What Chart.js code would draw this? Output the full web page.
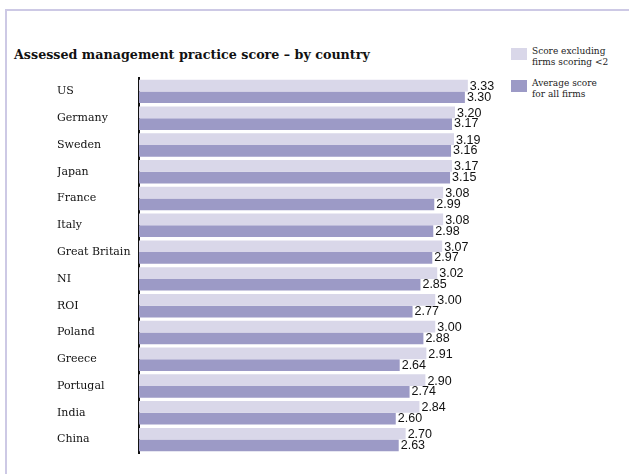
<!DOCTYPE html>
<html>
<head>
<meta charset="utf-8">
<script src="https://cdn.jsdelivr.net/npm/chart.js@4/dist/chart.umd.min.js"></script>
<style>
  html, body { margin: 0; padding: 0; background: #fff; }
  #wrap { position: relative; width: 629px; height: 474px; overflow: hidden; }
  #frame {
    position: absolute; left: 5px; top: 9px; right: -10px; bottom: -10px;
    border-left: 2px solid #cdc9e5; border-top: 2px solid #cdc9e5;
  }
  #title {
    position: absolute; left: 14px; top: 47px;
    font: bold 12.7px "DejaVu Serif", serif; color: #111; white-space: nowrap;
  }
  .lg { position: absolute; left: 511px; width: 16px; height: 12px; }
  .lgt {
    position: absolute; left: 532px; font: 9px/11px "DejaVu Serif", serif; color: #222;
  }
  canvas { position: absolute; left: 0; top: 0; }
</style>
</head>
<body>
<div id="wrap">
  <div id="frame"></div>
  <div id="title">Assessed management practice score – by country</div>
  <div class="lg" style="top:48px;background:#d9d7e9"></div>
  <div class="lgt" style="top:46px">Score excluding<br>firms scoring &lt;2</div>
  <div class="lg" style="top:80px;background:#9c9ac6"></div>
  <div class="lgt" style="top:78px">Average score<br>for all firms</div>
  <canvas id="ch_scores" width="629" height="474"></canvas>
</div>
<script>
const countries = ['US', 'Germany', 'Sweden', 'Japan', 'France', 'Italy', 'Great Britain',
  'NI', 'ROI', 'Poland', 'Greece', 'Portugal', 'India', 'China'];
const scoreExcl = [3.33, 3.20, 3.19, 3.17, 3.08, 3.08, 3.07, 3.02, 3.00, 3.00, 2.91, 2.90, 2.84, 2.70];
const scoreAll  = [3.30, 3.17, 3.16, 3.15, 2.99, 2.98, 2.97, 2.85, 2.77, 2.88, 2.64, 2.74, 2.60, 2.63];

const LIGHT = '#d9d7e9';
const DARK  = '#9c9ac6';

// value labels at the end of each bar
const barValues = {
  id: 'barValues',
  afterDatasetsDraw(chart) {
    const ctx = chart.ctx;
    ctx.save();
    ctx.font = '12.5px "Liberation Sans", Arial, sans-serif';
    ctx.fillStyle = '#111';
    ctx.textAlign = 'left';
    ctx.textBaseline = 'middle';
    chart.data.datasets.forEach((ds, i) => {
      chart.getDatasetMeta(i).data.forEach((bar, j) => {
        ctx.fillText(ds.data[j].toFixed(2), bar.x + 2, bar.y + (i === 0 ? 1 : 0));
      });
    });
    ctx.restore();
  }
};

new Chart(document.getElementById('ch_scores').getContext('2d'), {
  type: 'bar',
  data: {
    labels: countries,
    datasets: [
      { label: 'Score excluding firms scoring <2', data: scoreExcl, backgroundColor: LIGHT },
      { label: 'Average score for all firms', data: scoreAll, backgroundColor: DARK }
    ]
  },
  options: {
    indexAxis: 'y',
    responsive: false,
    animation: false,
    devicePixelRatio: 1,
    barPercentage: 1.0,
    categoryPercentage: 0.875,
    layout: { padding: { left: 57, top: 78, bottom: 21, right: 95 } },
    plugins: { legend: { display: false }, tooltip: { enabled: false } },
    scales: {
      x: { display: false, min: 0, max: 4 },
      y: {
        afterFit: s => { s.width = 82; },
        grid: { display: false, drawTicks: false },
        border: { display: true, color: '#111', width: 2 },
        ticks: {
          crossAlign: 'far', padding: 0, color: '#111',
          font: { family: '"DejaVu Serif", serif', size: 11 }
        }
      }
    }
  },
  plugins: [barValues]
});
</script>
</body>
</html>
